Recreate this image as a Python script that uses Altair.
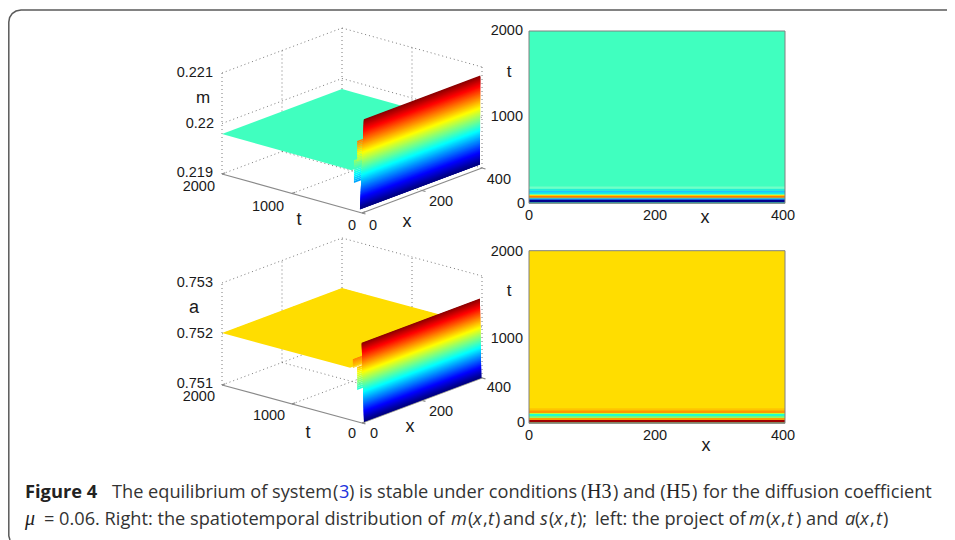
import altair as alt
import pandas as pd

W, H = 939, 532
SANS = "Liberation Sans"
CAP = "Open Sans"
SERIF = "Liberation Serif"

# ---------- value arrays ----------
X_MAX, T_MAX = 400, 2000
panels = {
    "m": dict(origin=(362, 213), xvec=(120, -45), tvec=(-140, -39), zrange=(0.219, 0.221), zpx=101,
              plane_z=0.21979, plane_color="#40FFBF", plane_t=150,
              wall_t=(30, 25), wall_z=(0.21906, 0.22082), wall_x0=(0, 12),
              ribbons=[(115, 0.21955, 0.2200), (70, 0.2200, 0.2204)]),
    "a": dict(origin=(362, 423), xvec=(120, -45), tvec=(-140, -38), zrange=(0.751, 0.753), zpx=102,
              plane_z=0.75202, plane_color="#FFDD00", plane_t=170,
              wall_t=(10, 30), wall_z=(0.751, 0.75255), wall_x0=(9, 6),
              ribbons=[(130, 0.75203, 0.7522), (70, 0.75162, 0.75207)]),
}
# heatmap rows: upper t edge of each band and its colour, bottom to top
m_t_edges = [12, 40, 52, 64, 85, 100, 112, 132, 150, 170, 195]
m_colors = ["#3FB8A0", "#00008F", "#0050FF", "#40B0C0", "#FF7A00", "#FFD000", "#70FFA0", "#10E0F0", "#20C0FF", "#20F0D8", "#70FFC8"]
a_t_edges = [12, 40, 60, 80, 108, 120, 150, 175]
a_colors = ["#4FA8A0", "#A00000", "#FFA000", "#90FF60", "#20FFD0", "#B0FF40", "#FF9800", "#FFC400"]
heat_m = dict(left=529, right=785, top=31, bottom=203.3, bg="#40FFBF", edges=m_t_edges, colors=m_colors)
heat_a = dict(left=529, right=785, top=250.7, bottom=423.3, bg="#FFDD00", edges=a_t_edges, colors=a_colors)

labels_right = [
    ("0.221", 213, 73, 14.5), ("0.22", 214, 124, 14.5), ("0.219", 213, 173, 14.5), ("2000", 215, 187, 14.5),
    ("2000", 523, 31, 14.5), ("1000", 523, 117, 14.5), ("400", 511, 180, 14.5), ("0", 525, 204, 14.5),
    ("0.753", 213, 283, 14.5), ("0.752", 213, 334, 14.5), ("0.751", 213, 384, 14.5), ("2000", 215, 397, 14.5),
    ("2000", 523, 252, 14.5), ("1000", 523, 339, 14.5), ("400", 511, 388, 14.5), ("0", 525, 423, 14.5),
]
labels_center = [
    ("m", 203, 98, 17), ("1000", 268, 207, 14.5), ("t", 299, 220, 18), ("0", 352, 226, 14.5), ("0", 373, 226, 14.5),
    ("x", 407, 222, 18), ("200", 441, 202, 14.5), ("t", 509, 72, 17), ("0", 529, 216, 14.5), ("200", 655, 216, 14.5),
    ("x", 705, 218, 18), ("400", 783, 216, 14.5),
    ("a", 194, 308, 18), ("1000", 269, 416, 14.5), ("t", 308, 433, 18), ("0", 352, 434, 14.5), ("0", 374, 434, 14.5),
    ("x", 410, 427, 18), ("200", 441, 412, 14.5), ("t", 509, 291, 17), ("0", 529, 436, 14.5), ("200", 655, 436, 14.5),
    ("x", 706, 446, 18), ("400", 783, 436, 14.5),
]
cap_y1, cap_y2 = 498, 525
REG = ("normal", "normal", CAP, "#333333", 18.2)
ITA = ("normal", "italic", CAP, "#333333", 18.2)
SER = ("normal", "normal", SERIF, "#222222", 20)
caption = [
    ("Figure 4", 25, cap_y1, ("bold", "normal", CAP, "#222222", 18.3)),
    ("The equilibrium of system", 112, cap_y1, REG),
    ("(", 333, cap_y1, REG),
    ("3", 339, cap_y1, ("normal", "normal", CAP, "#2233DD", 18.2)),
    (") is stable under conditions", 349, cap_y1, REG),
    ("(", 581, cap_y1, REG),
    ("H3", 587, cap_y1, SER),
    (") and (", 613, cap_y1, REG),
    ("H5", 666, cap_y1, SER),
    (")", 692, cap_y1, REG),
    ("for the diffusion coefficient", 703, cap_y1, REG),
    ("\u03bc", 25, cap_y2, ("normal", "italic", SERIF, "#222222", 20)),
    ("= 0.06. Right: the spatiotemporal distribution of", 44, cap_y2, REG),
    ("m", 451, cap_y2, ITA),
    ("(", 468, cap_y2, REG),
    ("x", 473, cap_y2, ITA),
    (",", 483, cap_y2, REG),
    ("t", 488, cap_y2, ITA),
    (")", 495, cap_y2, REG),
    ("and", 503, cap_y2, REG),
    ("s", 540, cap_y2, ITA),
    ("(", 549, cap_y2, REG),
    ("x", 554, cap_y2, ITA),
    (",", 564, cap_y2, REG),
    ("t", 570, cap_y2, ITA),
    (");", 577, cap_y2, REG),
    ("left: the project of", 595, cap_y2, REG),
    ("m", 749, cap_y2, ITA),
    ("(", 766, cap_y2, REG),
    ("x", 771, cap_y2, ITA),
    (",", 781, cap_y2, REG),
    ("t", 787, cap_y2, ITA),
    (") and", 796, cap_y2, REG),
    ("a", 845, cap_y2, ITA),
    ("(", 855, cap_y2, REG),
    ("x", 860, cap_y2, ITA),
    (",", 870, cap_y2, REG),
    ("t", 876, cap_y2, ITA),
    (")", 883, cap_y2, REG),
]
frame_x = [10, 8.8, 8.8, 9.6, 12.2, 16, 21, 947]
frame_y = [540, 536, 22, 17.5, 13.5, 11, 10, 10]

# ---------- helpers ----------
def jet(f):
    f = max(0.0, min(1.0, f))
    r = min(4 * f - 1.5, -4 * f + 4.5)
    g = min(4 * f - 0.5, -4 * f + 3.5)
    b = min(4 * f + 0.5, -4 * f + 2.5)
    return "#%02X%02X%02X" % tuple(int(round(255 * max(0, min(1, c)))) for c in (r, g, b))

def project(p, x, t, z=None):
    zlo, zhi = p["zrange"]
    z = zlo if z is None else z
    ox, oy = p["origin"]
    fx, ft = x / X_MAX, t / T_MAX
    return (ox + fx * p["xvec"][0] + ft * p["tvec"][0],
            oy + fx * p["xvec"][1] + ft * p["tvec"][1] - (z - zlo) / (zhi - zlo) * p["zpx"])

area_rows, rule_rows, dot_rows = [], [], []
gid = [0]

def add_strip(x0, x1, y0a, y0b, y1a, y1b, color):
    gid[0] += 1
    area_rows.append(dict(g=gid[0], px=x0, py=y0a, py2=y0b, c=color))
    area_rows.append(dict(g=gid[0], px=x1, py=y1a, py2=y1b, c=color))

def add_convex(pts, color):
    xs = sorted({q[0] for q in pts})
    n = len(pts)
    gid[0] += 1
    for sx in xs:
        ys = []
        for i in range(n):
            a, b = pts[i], pts[(i + 1) % n]
            if min(a[0], b[0]) <= sx <= max(a[0], b[0]):
                if a[0] == b[0]:
                    ys += [a[1], b[1]]
                else:
                    ys.append(a[1] + (sx - a[0]) / (b[0] - a[0]) * (b[1] - a[1]))
        area_rows.append(dict(g=gid[0], px=sx, py=min(ys), py2=max(ys), c=color))

def add_band(p, x0, t, zlo, zhi, clo, chi, over=0.0):
    a0 = project(p, x0, t, zlo); b0 = project(p, x0, t, zhi)
    a1 = project(p, X_MAX, t, zlo); b1 = project(p, X_MAX, t, zhi)
    # the band is painted downward over the one below it, so no seam shows between neighbours
    add_strip(a0[0], a1[0], a0[1] + over, b0[1], a1[1] + over, b1[1], jet(((zlo + zhi) / 2 - clo) / (chi - clo)))

for p in panels.values():
    zlo, zhi = p["zrange"]
    # dotted box and grid
    zmid = (zlo + zhi) / 2
    for z in (zlo, zmid, zhi):
        dot_rows.append((project(p, 0, T_MAX, z), project(p, X_MAX, T_MAX, z)))
        dot_rows.append((project(p, X_MAX, T_MAX, z), project(p, X_MAX, 0, z)))
    for x, t in ((0, T_MAX), (200, T_MAX), (X_MAX, T_MAX), (X_MAX, 1000), (X_MAX, 0)):
        dot_rows.append((project(p, x, t, zlo), project(p, x, t, zhi)))
    dot_rows.append((project(p, 200, T_MAX), project(p, 200, 0)))
    dot_rows.append((project(p, 0, 1000), project(p, X_MAX, 1000)))
    # solid axes and ticks
    rule_rows.append((project(p, 0, T_MAX), project(p, 0, 0)))
    rule_rows.append((project(p, 0, 0), project(p, X_MAX, 0)))
    for t in (0, 1000, T_MAX):
        rule_rows.append((project(p, 0, t), project(p, 10, t)))
    for x in (0, 200, X_MAX):
        rule_rows.append((project(p, x, 0), project(p, x, -50)))
    # plane, ribbons, wall (back to front)
    t0 = p["plane_t"]
    add_convex([project(p, 0, T_MAX, p["plane_z"]), project(p, X_MAX, T_MAX, p["plane_z"]),
                project(p, X_MAX, t0, p["plane_z"]), project(p, 0, t0, p["plane_z"])], p["plane_color"])
    cl, ch = p["wall_z"]
    for t, r0, r1 in p["ribbons"]:
        steps = 12
        for i in range(steps):
            add_band(p, 0, t, r0 + (r1 - r0) * i / steps, r0 + (r1 - r0) * (i + 1) / steps, cl, ch)
    n = 128
    # painted top band first, each next band overlaps the previous one's lower edge region
    for i in reversed(range(n)):
        f = (i + 0.5) / n
        t = p["wall_t"][0] + (p["wall_t"][1] - p["wall_t"][0]) * f
        x0 = p["wall_x0"][0] + (p["wall_x0"][1] - p["wall_x0"][0]) * f
        add_band(p, x0, t, cl + (ch - cl) * max(i - 2, 0) / n, cl + (ch - cl) * (i + 1) / n, cl, ch)

heat_rows, border_rows = [], []
for h in (heat_m, heat_a):
    sc = (h["bottom"] - h["top"]) / T_MAX
    heat_rows.append(dict(x=h["left"], x2=h["right"], y=h["bottom"] - sc * T_MAX, y2=h["bottom"], c=h["bg"]))
    lo = 0
    for e, c in zip(h["edges"], h["colors"]):
        heat_rows.append(dict(x=h["left"], x2=h["right"], y=h["bottom"] - sc * e, y2=h["bottom"] - sc * lo, c=c))
        lo = e
    border_rows.append(dict(x=h["left"], x2=h["right"], y=h["top"], y2=h["bottom"]))

# ---------- chart ----------
X = alt.X("px:Q", scale=alt.Scale(domain=[8, 947], range=[0, W]), axis=None)
Y = alt.Y("py:Q", scale=alt.Scale(domain=[8, 540], range=[0, H]), axis=None, stack=None)

def rules(rows, **kw):
    df = pd.DataFrame([dict(px=a[0], py=a[1], px2=b[0], py2=b[1]) for a, b in rows])
    return alt.Chart(df).mark_rule(**kw).encode(x=X, y=Y, x2="px2:Q", y2="py2:Q")

def texts(rows, **kw):
    df = pd.DataFrame(rows, columns=["s", "px", "py", "fs"])
    return alt.Chart(df).mark_text(baseline="middle", font=SANS, color="#1a1a1a", **kw).encode(
        x=X, y=Y, text="s:N", size=alt.Size("fs:Q", scale=None))

layers = [
    alt.Chart(pd.DataFrame(dict(px=frame_x, py=frame_y, o=range(len(frame_x))))).mark_line(
        color="#5a5a5a", strokeWidth=1.5).encode(x=X, y=Y, order="o:Q"),
    rules(dot_rows, color="#7a7a7a", strokeWidth=1, strokeDash=[1, 3]),
    rules(rule_rows, color="#8a8a8a", strokeWidth=1.2),
    alt.Chart(pd.DataFrame(area_rows)).mark_area(interpolate="linear").encode(
        x=X, y=Y, y2="py2:Q", detail="g:N", color=alt.Color("c:N", scale=None)),
    alt.Chart(pd.DataFrame(heat_rows).rename(columns=dict(x="px", y="py"))).mark_rect().encode(
        x=X, y=Y, x2="x2:Q", y2="y2:Q", color=alt.Color("c:N", scale=None)),
    alt.Chart(pd.DataFrame(border_rows).rename(columns=dict(x="px", y="py"))).mark_rect(
        fillOpacity=0, stroke="#808080", strokeWidth=1).encode(x=X, y=Y, x2="x2:Q", y2="y2:Q"),
    texts(labels_right, align="right"),
    texts(labels_center, align="center"),
]
styles = []
for c in caption:
    if c[3] not in styles:
        styles.append(c[3])
for st in styles:
    df = pd.DataFrame([dict(s=c[0], px=c[1], py=c[2]) for c in caption if c[3] == st])
    layers.append(alt.Chart(df).mark_text(align="left", baseline="alphabetic", fontSize=st[4],
                                          fontWeight=st[0], fontStyle=st[1], font=st[2], color=st[3]).encode(
        x=X, y=Y, text="s:N"))

chart = alt.layer(*layers).properties(
    width=W, height=H, padding=0, autosize="none", background="white"
).configure_view(stroke=None)
chart.save("out.html", embed_options={"renderer": "svg", "actions": False})
